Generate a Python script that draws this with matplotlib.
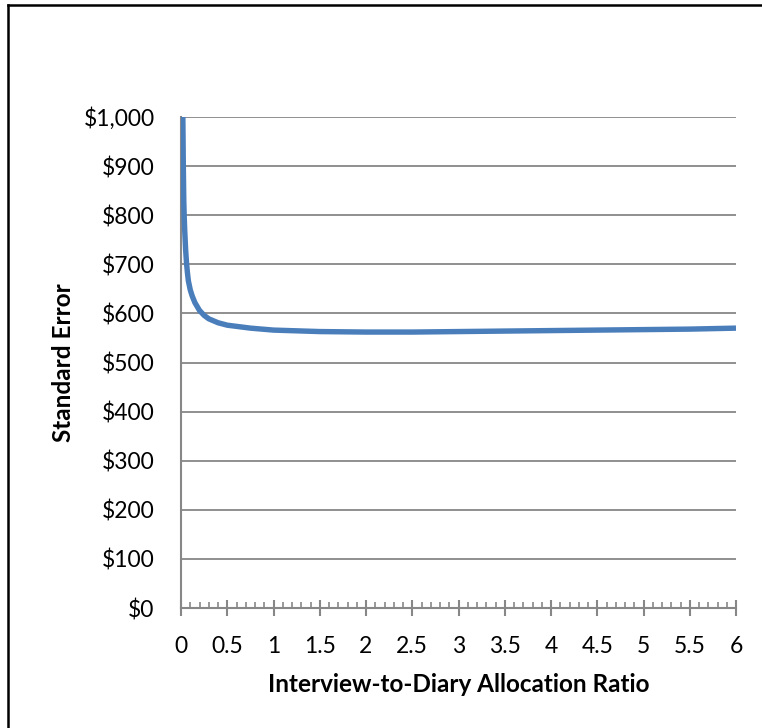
import matplotlib
matplotlib.use("Agg")
import matplotlib.pyplot as plt
from matplotlib.ticker import MultipleLocator, FuncFormatter
from matplotlib.lines import Line2D

# Data
ratio = [0.02, 0.025, 0.03, 0.035, 0.04, 0.05, 0.06, 0.07, 0.08, 0.1, 0.12, 0.15,
         0.2, 0.25, 0.3, 0.4, 0.5, 0.75, 1.0, 1.5, 2.0, 2.5, 3.0, 3.5, 4.0, 4.5,
         5.0, 5.5, 6.0]
std_error = [1000, 900, 830, 795, 770, 730, 702, 682, 666, 648, 636, 622,
             606, 596, 589, 581, 576, 570, 566, 563, 562, 562, 563, 564, 565, 566,
             567, 568, 570]

x_label = "Interview-to-Diary Allocation Ratio"
y_label = "Standard Error"

plt.rcParams['font.family'] = ['Lato', 'DejaVu Sans']

W, H = 762, 728
fig = plt.figure(figsize=(W / 100, H / 100), dpi=100)
ax = fig.add_axes([181 / W, 1 - 608 / H, (736 - 181) / W, (608 - 117) / H])

grid_c = '#878787'
ax.plot(ratio, std_error, color='#4a7ebb', lw=3.9, solid_capstyle='butt', zorder=3)

ax.set_xlim(0, 6)
ax.set_ylim(0, 1000)
ax.xaxis.set_major_locator(MultipleLocator(0.5))
ax.xaxis.set_minor_locator(MultipleLocator(0.1))
ax.yaxis.set_major_locator(MultipleLocator(100))
ax.xaxis.set_major_formatter(FuncFormatter(lambda v, p: f"{v:g}"))
ax.yaxis.set_major_formatter(FuncFormatter(lambda v, p: f"${v:,.0f}"))

ax.grid(axis='y', color=grid_c, lw=1.3, zorder=1)
ax.set_axisbelow(True)
for s in ['top', 'right']:
    ax.spines[s].set_visible(False)
for s in ['left', 'bottom']:
    ax.spines[s].set_color(grid_c)
    ax.spines[s].set_linewidth(1.5)

ax.tick_params(axis='x', which='major', direction='inout', length=11, width=1.5,
               color=grid_c, labelsize=16.5, pad=15)
ax.tick_params(axis='x', which='minor', direction='in', length=4.5, width=1.2,
               color=grid_c)
ax.tick_params(axis='y', which='major', length=0, labelsize=16.5, pad=19)

ax.set_xlabel(x_label, fontsize=17.5, fontweight='bold', labelpad=11)
ax.set_ylabel(y_label, fontsize=17.5, fontweight='bold', labelpad=6)

# outer frame (left and top edges visible)
fig.add_artist(Line2D([7.5 / W, 7.5 / W], [0, 1 - 5 / H], transform=fig.transFigure,
                      color='black', lw=1.8))
fig.add_artist(Line2D([7.5 / W, 1], [1 - 5 / H, 1 - 5 / H], transform=fig.transFigure,
                      color='black', lw=1.8))

fig.savefig("out.png", dpi=100)
